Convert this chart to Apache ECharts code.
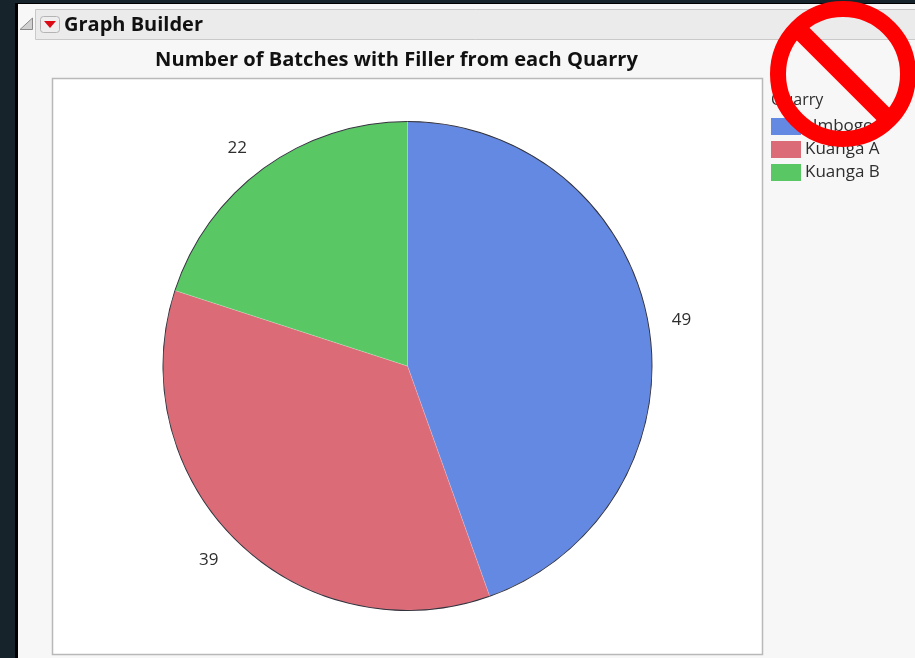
<!DOCTYPE html>
<html>
<head>
<meta charset="utf-8">
<style>
  html, body { margin: 0; padding: 0; background: #17232b; }
  #chart { width: 915px; height: 658px; }
</style>
<script src="https://cdn.jsdelivr.net/npm/echarts@6/dist/echarts.min.js"></script>
</head>
<body>
<div id="chart"></div>
<script>
const quarries = ['Umbogo A', 'Kuanga A', 'Kuanga B'];
const batches = [49, 39, 22];
const sliceColors = ['#6489e3', '#dc6b78', '#5ac765'];
const titleText = 'Number of Batches with Filler from each Quarry';
const panelText = 'Graph Builder';
const legendTitle = 'Quarry';
const uiFont = '"Open Sans", "Noto Sans", sans-serif';

const sliceData = quarries.map((name, i) => ({ name, value: batches[i] }));
const pieCenter = [407.5, 366];

const chart = echarts.init(document.getElementById('chart'), null, { renderer: 'canvas' });

chart.setOption({
  animation: false,
  backgroundColor: '#17232b',
  legend: {
    data: quarries,
    orient: 'vertical',
    left: 771,
    top: 118,
    padding: 0,
    itemWidth: 30,
    itemHeight: 17,
    itemGap: 6,
    icon: 'rect',
    selectedMode: false,
    itemStyle: { borderWidth: 0 },
    textStyle: { fontFamily: uiFont, fontSize: 17, color: '#2e2e2e', padding: [2, 0, 0, -1] },
    z: 5
  },
  graphic: [
    // window chrome behind the plot
    { type: 'rect', z: -10, shape: { x: 15, y: 3, width: 900, height: 655 }, style: { fill: '#000000' } },
    { type: 'rect', z: -9, shape: { x: 18, y: 4, width: 897, height: 654 }, style: { fill: '#f7f7f7' } },
    { type: 'rect', z: -8, shape: { x: 35.5, y: 9.5, width: 890, height: 30 }, style: { fill: '#ebebeb', stroke: '#c9c9c9', lineWidth: 1 } },
    // disclosure triangle
    { type: 'polygon', z: -7, shape: { points: [[20, 29.5], [32.5, 18], [32.5, 29.5]] }, style: { fill: '#d0d0d0', stroke: '#8a8a8a', lineWidth: 1 } },
    // red menu button
    { type: 'rect', z: -7, shape: { x: 40.5, y: 16.5, width: 19, height: 16, r: 3 }, style: { fill: '#eeeeee', stroke: '#b4b4b4', lineWidth: 1 } },
    { type: 'polygon', z: -6, shape: { points: [[44, 21], [56, 21], [50, 28]] }, style: { fill: '#dc0a14' } },
    { type: 'text', z: -6, style: { x: 64, y: 25, text: panelText, font: '700 20px ' + uiFont, fill: '#111111', verticalAlign: 'middle' } },
    { type: 'text', z: -6, style: { x: 396.5, y: 60.5, text: titleText, font: '700 20.1px ' + uiFont, fill: '#111111', align: 'center', verticalAlign: 'middle' } },
    // plot frame
    { type: 'rect', z: -5, shape: { x: 52.5, y: 78.5, width: 710, height: 576 }, style: { fill: '#ffffff', stroke: '#b9b9b9', lineWidth: 1.5 } },
    { type: 'text', z: 4, style: { x: 771, y: 100, text: legendTitle, font: '16px ' + uiFont, fill: '#2e2e2e', verticalAlign: 'middle' } },
    // prohibition sign overlaid on the corner
    { type: 'circle', z: 20, shape: { cx: 843, cy: 74, r: 65 }, style: { fill: 'none', stroke: '#ff0000', lineWidth: 16 } },
    { type: 'line', z: 20, shape: { x1: 798, y1: 29, x2: 888, y2: 119 }, style: { stroke: '#ff0000', lineWidth: 18 } }
  ],
  series: [
    {
      type: 'pie',
      center: pieCenter,
      radius: [0, 244.5],
      startAngle: 90,
      clockwise: true,
      silent: true,
      data: sliceData,
      color: sliceColors,
      itemStyle: { borderColor: 'rgba(255,255,255,0.35)', borderWidth: 0.5 },
      label: { show: false },
      labelLine: { show: false },
      z: 2
    },
    {
      // thin dark ring outlining the rim of the pie
      type: 'pie',
      center: pieCenter,
      radius: [244, 245],
      startAngle: 90,
      clockwise: true,
      silent: true,
      data: sliceData,
      itemStyle: { color: '#33333d', borderWidth: 0 },
      label: { show: false },
      labelLine: { show: false },
      z: 3
    },
    {
      // invisible ring that carries the value labels just outside the pie
      type: 'pie',
      center: pieCenter,
      radius: [270, 286],
      startAngle: 90,
      clockwise: true,
      silent: true,
      data: sliceData,
      itemStyle: { color: 'rgba(0,0,0,0)', borderWidth: 0 },
      label: {
        show: true,
        position: 'inside',
        formatter: '{c}',
        fontFamily: uiFont,
        fontSize: 17,
        color: '#2e2e2e'
      },
      labelLine: { show: false },
      // small nudges off the radial position of each value label
      labelLayout: (params) => ({
        dx: [-3, -3, -5][params.dataIndex],
        dy: [2, -7, 9][params.dataIndex]
      }),
      z: 3
    }
  ]
});
</script>
</body>
</html>
